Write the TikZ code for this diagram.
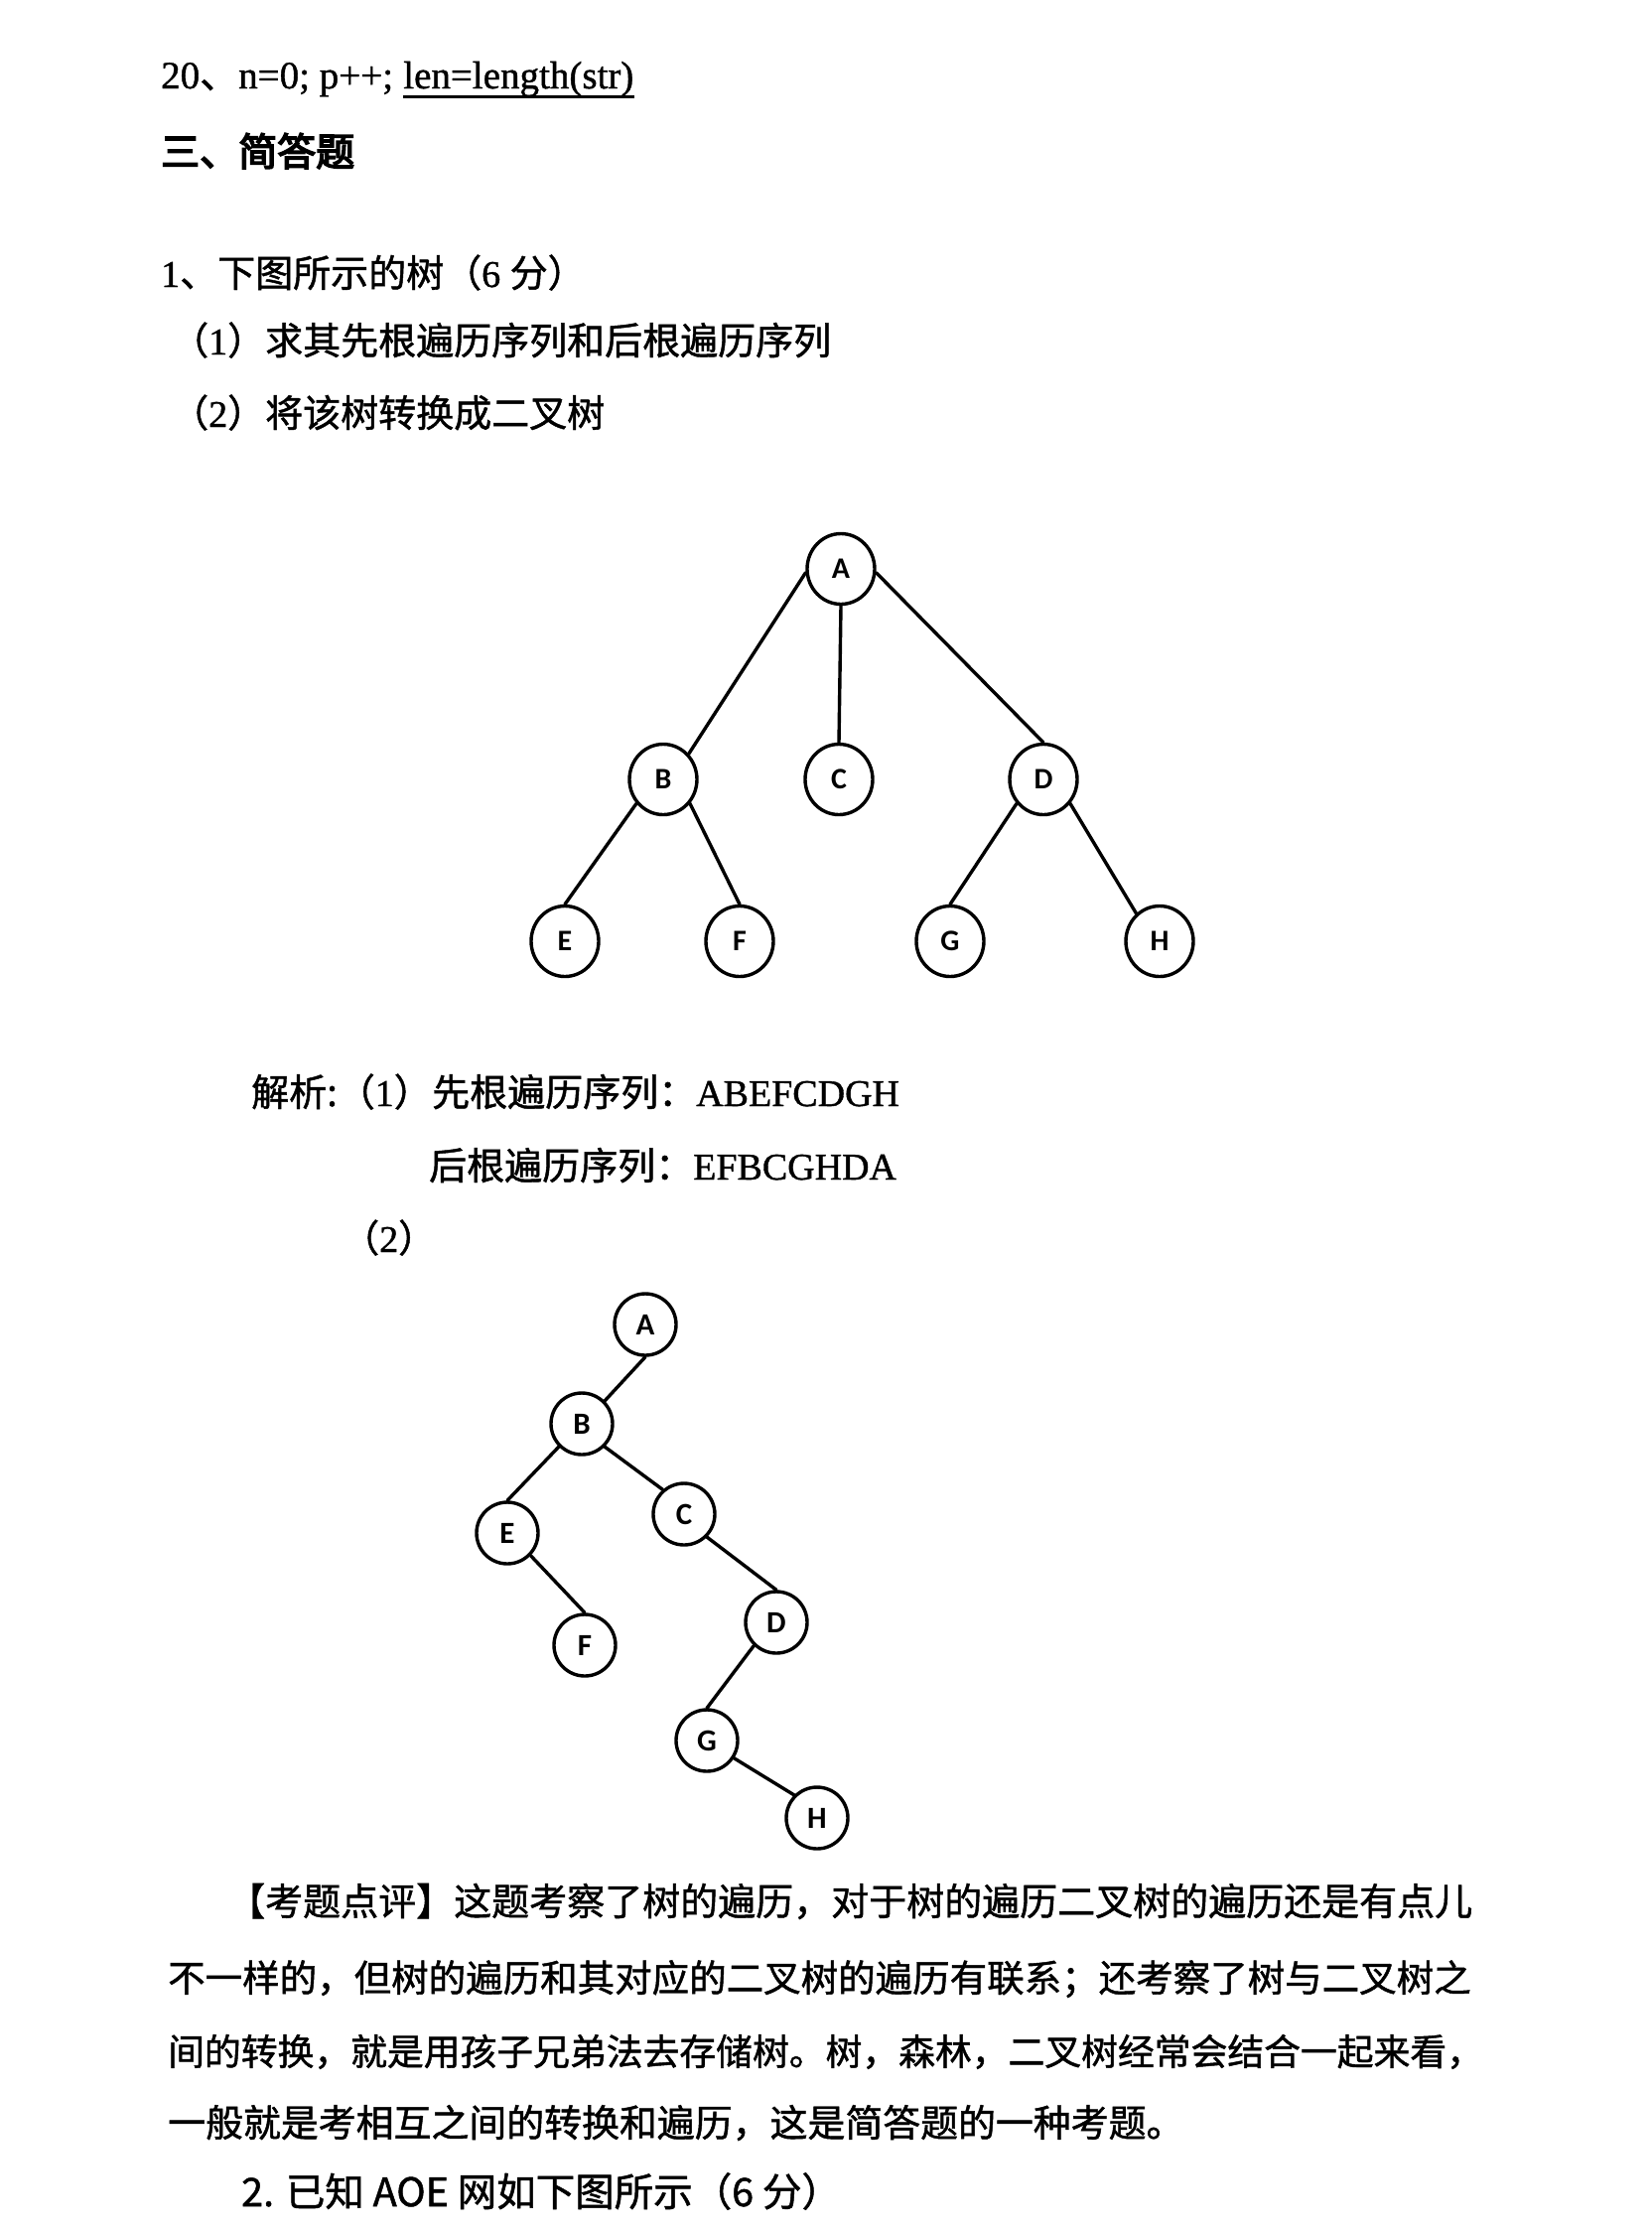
\documentclass[tikz,border=0pt]{standalone}
\usepackage{fontspec}
\setmainfont{Liberation Serif}[FakeBold=1]
\newfontfamily\cjk{Noto Sans CJK SC}[FakeBold=1.2]
\newfontfamily\cjkhead{Noto Sans CJK SC}[FakeBold=4]
\newfontfamily\vfont{Carlito}
\usetikzlibrary{positioning,shapes.geometric}
\tikzset{
  link/.style={line width=3.4pt, draw=black, line cap=round},
  every node/.style={anchor=center}
}

\begin{document}
\begin{tikzpicture}[
  x=1pt, y=-1pt,
  txt/.style={anchor=base west, inner sep=0pt, font=\fontsize{38}{44}\selectfont},
  para/.style={txt, font=\cjk\fontsize{37.5}{44}\selectfont},
  vtx/.style={ellipse, draw=black, fill=white, line width=3.4pt, minimum width=68pt, minimum height=71pt, inner sep=0pt, font=\vfont\bfseries\fontsize{30}{34}\selectfont},
  vtxs/.style={vtx, minimum width=62pt, minimum height=62pt, font=\vfont\bfseries\fontsize{31}{34}\selectfont}
]
\useasboundingbox (0,0) rectangle (1664,2246);
\fill[white] (0,0) rectangle (1664,2246);

% header lines
\node[txt, font=\fontsize{39}{44}\selectfont] (q20) at (162,89) {20{\cjk 、}n=0; p++;\ \mbox{}};
\node[txt, font=\fontsize{39}{44}\selectfont] (q20len) at (q20.base east) {len=length(str)};
\draw[line width=3pt] ([yshift=-8pt]q20len.base west) -- ([yshift=-8pt]q20len.base east);
\node[txt, font=\cjkhead\fontsize{39}{44}\selectfont] (sec) at (162,167) {三、简答题};

\node[txt] (q1) at (162,289) {1{\cjk 、下图所示的树（}6 {\cjk 分）}};
\node[txt] (q1a) at (172,357) {{\cjk （}1{\cjk ）求其先根遍历序列和后根遍历序列}};
\node[txt] (q1b) at (172,430) {{\cjk （}2{\cjk ）将该树转换成二叉树}};

% the tree
\node[vtx] (tA) at (847,573) {A};
\node[vtx] (tB) at (668,785) {B};
\node[vtx] (tC) at (845,785) {C};
\node[vtx] (tD) at (1051,785) {D};
\node[vtx] (tE) at (569,948) {E};
\node[vtx] (tF) at (745,948) {F};
\node[vtx] (tG) at (957,948) {G};
\node[vtx] (tH) at (1168,948) {H};

\draw[link] (tA.186) -- (tB.45);
\draw[link] (tA.south) -- (tC.north);
\draw[link] (tA.-6) -- (tD.north);
\draw[link] (tB.222) -- (tE.north);
\draw[link] (tB.-42) -- (tF.north);
\draw[link] (tD.222) -- (tG.north);
\draw[link] (tD.-42) -- (tH.130);

% answers
\node[txt] (pre) at (435,1114) {{\cjk 先根遍历序列：}ABEFCDGH};
\node[txt, anchor=base east] (ana) at (pre.base west) {{\cjk 解析:（}1{\cjk ）}};
\node[txt] (post) at (432,1188) {{\cjk 后根遍历序列：}EFBCGHDA};
\node[txt] (ans2) at (344,1261) {{\cjk （}2{\cjk ）}};

% the binary tree
\node[vtxs] (bA) at (650,1334) {A};
\node[vtxs] (bB) at (586,1434) {B};
\node[vtxs] (bC) at (689,1525) {C};
\node[vtxs] (bD) at (782,1634) {D};
\node[vtxs] (bE) at (511,1544) {E};
\node[vtxs] (bF) at (589,1657) {F};
\node[vtxs] (bG) at (712,1753) {G};
\node[vtxs] (bH) at (823,1831) {H};

\draw[link] (bA.south) -- (bB.45);
\draw[link] (bB.225) -- (bE.north);
\draw[link] (bB.-45) -- (bC.131);
\draw[link] (bE.-44) -- (bF.north);
\draw[link] (bC.-45) -- (bD.north);
\draw[link] (bD.226) -- (bG.north);
\draw[link] (bG.-33) -- (bH.135);

% comment paragraph
\node[para, font=\cjk\fontsize{38}{44}\selectfont] (cm1) at (229,1929) {【考题点评】这题考察了树的遍历，对于树的遍历二叉树的遍历还是有点儿};
\node[para] (cm2) at (169,2006) {不一样的，但树的遍历和其对应的二叉树的遍历有联系；还考察了树与二叉树之};
\node[para, font=\cjk\fontsize{36.8}{44}\selectfont] (cm3) at (169,2080) {间的转换，就是用孩子兄弟法去存储树。树，森林，二叉树经常会结合一起来看，};
\node[para, font=\cjk\fontsize{37.9}{44}\selectfont] (cm4) at (169,2152) {一般就是考相互之间的转换和遍历，这是简答题的一种考题。};
\node[para, font=\cjk\fontsize{39.5}{44}\selectfont] (q2) at (243,2222) {2. 已知 AOE 网如下图所示（6 分）};
\end{tikzpicture}
\end{document}
